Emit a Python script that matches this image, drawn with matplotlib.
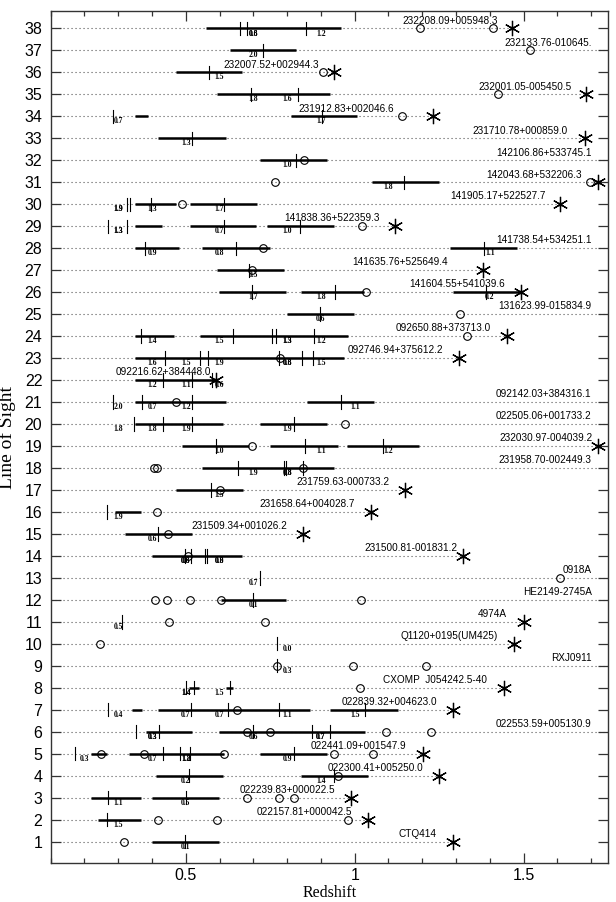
import matplotlib
matplotlib.use('Agg')
import matplotlib.pyplot as plt
from matplotlib.ticker import MultipleLocator

# one entry per line of sight, index 0 -> line 1
qso_names = [
    'CTQ414', '022157.81+000042.5', '022239.83+000022.5', '022300.41+005250.0',
    '022441.09+001547.9', '022553.59+005130.9', '022839.32+004623.0', 'CXOMP  J054242.5-40',
    'RXJ0911', 'Q1120+0195(UM425)', '4974A', 'HE2149-2745A', '0918A',
    '231500.81-001831.2', '231509.34+001026.2', '231658.64+004028.7', '231759.63-000733.2',
    '231958.70-002449.3', '232030.97-004039.2', '022505.06+001733.2', '092142.03+384316.1',
    '092216.62+384448.0', '092746.94+375612.2', '092650.88+373713.0', '131623.99-015834.9',
    '141604.55+541039.6', '141635.76+525649.4', '141738.54+534251.1', '141838.36+522359.3',
    '141905.17+522527.7', '142043.68+532206.3', '142106.86+533745.1', '231710.78+000859.0',
    '231912.83+002046.6', '232001.05-005450.5', '232007.52+002944.3', '232133.76-010645.',
    '232208.09+005948.3',
]

# quasar redshift (asterisk), None where not plotted
qso_z = [
    1.290, 1.040, 0.988, 1.251, 1.201, None, 1.290, 1.442, None, 1.471,
    1.500, None, None, 1.322, 0.848, 1.047, 1.150, None, 1.721, None,
    None, 0.589, 1.310, 1.450, None, 1.491, 1.380, None, 1.120, 1.609,
    1.721, None, 1.682, 1.231, 1.686, 0.939, None, 1.465,
]

# redshift where each name label ends
name_end = [
    1.242, 0.992, 0.942, 1.204, 1.152, 1.701, 1.243, 1.391, 1.701, 1.423,
    1.450, 1.701, 1.701, 1.304, 0.801, 1.000, 1.102, 1.701, 1.704, 1.701,
    1.701, 0.574, 1.263, 1.403, 1.701, 1.444, 1.275, 1.701, 1.074, 1.564,
    1.672, 1.701, 1.631, 1.117, 1.643, 0.893, 1.701, 1.423,
]

# open circles
circles = [
    [0.317], [0.418, 0.591, 0.979], [0.681, 0.775, 0.819], [0.950],
    [0.250, 0.377, 0.614, 0.939, 1.055], [0.681, 0.749, 1.093, 1.225], [0.653], [1.015],
    [0.770, 0.994, 1.210], [0.247], [0.451, 0.733], [0.408, 0.445, 0.513, 0.603, 1.018],
    [1.607], [0.507], [0.446], [0.414], [0.601], [0.407, 0.414, 0.846], [0.696], [0.971],
    [0.472], [], [0.778], [1.331], [1.313], [1.032], [0.696], [0.728], [1.023], [0.489],
    [0.764, 1.697], [0.851], [], [1.139], [1.423], [0.907], [1.520], [1.194, 1.409],
]

# thick redshift windows
windows = [
    [(0.400, 0.598)],
    [(0.241, 0.367)],
    [(0.220, 0.367), (0.400, 0.598)],
    [(0.412, 0.610), (0.842, 1.039)],
    [(0.220, 0.266), (0.331, 0.612), (0.720, 0.918)],
    [(0.381, 0.519), (0.599, 1.029)],
    [(0.340, 0.369), (0.419, 0.868), (0.928, 1.128)],
    [(0.509, 0.538), (0.620, 0.640)],
    [], [], [],
    [(0.603, 0.798)],
    [],
    [(0.401, 0.667)],
    [(0.320, 0.519)],
    [(0.290, 0.367)],
    [(0.471, 0.669)],
    [(0.548, 0.939)],
    [(0.489, 0.688), (0.750, 0.950), (0.977, 1.189)],
    [(0.349, 0.610), (0.720, 0.918)],
    [(0.349, 0.618), (0.860, 1.058)],
    [(0.349, 0.586)],
    [(0.349, 0.968)],
    [(0.349, 0.466), (0.542, 0.979)],
    [(0.801, 0.998)],
    [(0.599, 0.798), (0.841, 1.027), (1.291, 1.488)],
    [(0.591, 0.790)],
    [(0.349, 0.480), (0.548, 0.749), (1.282, 1.479)],
    [(0.349, 0.430), (0.511, 0.708), (0.739, 0.939)],
    [(0.349, 0.470), (0.511, 0.710)],
    [(1.050, 1.249)],
    [(0.720, 0.918)],
    [(0.419, 0.618)],
    [(0.349, 0.389), (0.810, 1.008)],
    [(0.591, 0.928)],
    [(0.471, 0.667)],
    [(0.630, 0.827)],
    [(0.561, 0.959)],
]

# absorbers: (redshift, label); label is printed at the redshift rounded to 0.1
absorbers = [
    [(0.498, '0.1')],
    [(0.268, '1.5')],
    [(0.270, '1.1'), (0.501, '0.5')],
    [(0.509, '0.2'), (0.939, '1.4')],
    [(0.173, '0.3'), (0.431, '0.7'), (0.483, '1.8'), (0.513, '1.2'), (0.819, '0.9')],
    [(0.352, '0.3'), (0.422, '0.3'), (0.700, '0.6'), (0.875, '0.7'), (0.928, '0.7')],
    [(0.270, '0.4'), (0.515, '0.7'), (0.626, '0.7'), (0.776, '1.1'), (1.029, '1.5')],
    [(0.501, '1.4'), (0.525, '1.4'), (0.630, '1.5')],
    [(0.770, '0.3')],
    [(0.770, '0.0')],
    [(0.311, '0.5')],
    [(0.699, '0.1')],
    [(0.720, '0.7')],
    [(0.498, '0.8'), (0.515, '0.6'), (0.556, '0.8'), (0.564, '0.9')],
    [(0.419, '0.6')],
    [(0.266, '1.9')],
    [(0.574, '1.5')],
    [(0.655, '1.9'), (0.790, '1.8'), (0.796, '0.8'), (0.846, '')],
    [(0.589, '1.0'), (0.852, '1.1'), (1.084, '1.2')],
    [(0.346, '1.8'), (0.431, '1.8'), (0.519, '1.9'), (0.819, '1.9')],
    [(0.284, '2.0'), (0.369, '0.7'), (0.518, '1.2'), (0.959, '1.1')],
    [(0.431, '1.2'), (0.519, '1.1'), (0.579, '0.6')],
    [(0.439, '1.6'), (0.541, '1.5'), (0.567, '1.9'), (0.775, '0.8'), (0.845, '0.6'), (0.877, '1.5')],
    [(0.367, '1.4'), (0.641, '1.5'), (0.755, '1.3'), (0.766, '1.5'), (0.880, '1.2')],
    [(0.897, '0.6')],
    [(0.696, '1.7'), (0.943, '1.8'), (1.389, '0.2')],
    [(0.688, '0.5')],
    [(0.379, '0.9'), (0.648, '0.8'), (1.383, '1.1')],
    [(0.270, '1.3'), (0.326, '1.3'), (0.613, '0.7'), (0.839, '1.0')],
    [(0.326, '1.9'), (0.334, '1.9'), (0.398, '1.3'), (0.613, '1.7')],
    [(1.146, '1.8')],
    [(0.825, '1.0')],
    [(0.519, '1.3')],
    [(0.284, '0.7'), (0.904, '1.7')],
    [(0.694, '1.8'), (0.833, '1.6')],
    [(0.568, '1.5')],
    [(0.729, '2.0')],
    [(0.661, '0.8'), (0.682, '0.6'), (0.857, '1.2')],
]

Z_MIN, Z_MAX = 0.1, 1.75

fig = plt.figure(figsize=(6.16, 9.02), dpi=100)
ax = fig.add_axes([0.0823, 0.0436, 0.9048, 0.9446])

for i, name in enumerate(qso_names):
    y = i + 1
    end = qso_z[i] if qso_z[i] is not None else Z_MAX
    ax.plot([Z_MIN, end], [y, y], ls=(0, (1, 2.6)), color='#555555', lw=0.8, zorder=1)

    for a, b in windows[i]:
        ax.plot([a, b], [y, y], color='black', lw=1.8, solid_capstyle='butt', zorder=2)

    for z, lab in absorbers[i]:
        ax.plot([z, z], [y - 0.3, y + 0.3], color='black', lw=0.8, zorder=3)
        if lab:
            ax.text(round(z, 1), y - 0.24, lab, fontsize=5.5, fontweight='bold',
                    family='Liberation Serif', ha='center', va='center', zorder=4)

    if circles[i]:
        ax.plot(circles[i], [y] * len(circles[i]), 'o', mfc='none', mec='black',
                ms=5.5, mew=0.8, zorder=4)

    if qso_z[i] is not None:
        ax.plot(qso_z[i], y, marker=(6, 2, 0), ms=11, mec='black', mew=0.9,
                ls='none', zorder=5)
        ax.plot(qso_z[i], y, 'o', ms=2, color='black', zorder=5)

    ax.text(name_end[i], y + 0.12, name, ha='right', va='bottom', fontsize=7.2,
            family='Liberation Sans', zorder=6)

ax.set_xlim(Z_MIN, Z_MAX)
ax.set_ylim(0.05, 38.8)
ax.set_xticks([0.5, 1.0, 1.5], ['0.5', '1', '1.5'])
ax.xaxis.set_minor_locator(MultipleLocator(0.1))
ax.set_yticks(range(1, 39))
ax.tick_params(which='both', direction='in', top=True, right=True, color='#333333')
ax.tick_params(axis='x', which='major', length=7, width=0.9, pad=4, labelsize=11.5)
ax.tick_params(axis='x', which='minor', length=3.5, width=0.9)
ax.tick_params(axis='y', which='major', length=7, width=0.9, pad=6, labelsize=11.5)
for lab in ax.get_xticklabels() + ax.get_yticklabels():
    lab.set_family('Liberation Sans')
for sp in ax.spines.values():
    sp.set_linewidth(1.0)
    sp.set_color('#333333')

fig.text(0.5346, 0.001, 'Redshift', ha='center', va='bottom',
         family='Liberation Serif', fontsize=11.5)
fig.text(0.012, 0.5155, 'Line of Sight', rotation=90, ha='center', va='center',
         family='Liberation Serif', fontsize=14)

fig.savefig('out.png', dpi=100)
